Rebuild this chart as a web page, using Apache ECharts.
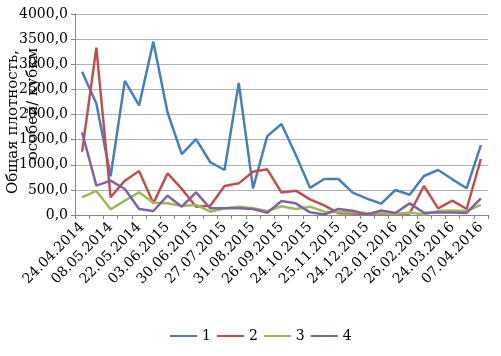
<!DOCTYPE html>
<html>
<head>
<meta charset="utf-8">
<script src="https://cdn.jsdelivr.net/npm/echarts@6/dist/echarts.min.js"></script>
<style>html,body{margin:0;padding:0;background:#fff}#c{width:501px;height:356px}</style>
</head>
<body>
<div id="c"></div>
<script>
var categories = ['24.04.2014','','08.05.2014','','22.05.2014','','03.06.2015','','30.06.2015','','27.07.2015','','31.08.2015','','26.09.2015','','24.10.2015','','25.11.2015','','24.12.2015','','22.01.2016','','26.02.2016','','24.03.2016','','07.04.2016'];
var series1 = [2850, 2220, 770, 2670, 2180, 3450, 2040, 1210, 1510, 1050, 895, 2630, 530, 1570, 1810, 1200, 540, 716, 716, 444, 325, 225, 497, 404, 776, 895, 710, 531, 1390];
var series2 = [1260, 3330, 352, 683, 876, 232, 829, 520, 166, 186, 577, 630, 862, 909, 448, 484, 312, 190, 37, 30, 20, 20, 20, 30, 577, 133, 285, 119, 1114];
var series3 = [352, 478, 113, 285, 451, 245, 232, 180, 200, 66, 133, 166, 133, 80, 175, 120, 166, 66, 56, 60, 40, 30, 20, 50, 10, 80, 90, 80, 200];
var series4 = [1645, 584, 683, 517, 119, 80, 385, 166, 451, 133, 133, 133, 119, 46, 279, 232, 53, 10, 119, 86, 13, 90, 40, 232, 45, 50, 50, 40, 332];
var seriesNames = ['1', '2', '3', '4'];
var yTitle1 = 'Общая плотность,';
var yTitle2 = 'особей/ кубкм';

var font = 'DejaVu Serif';
var colors = ['#4a7ebb', '#c0504d', '#9bbb59', '#8064a2'];
var chart = echarts.init(document.getElementById('c'));
function mk(name, data, i) {
  return {
    name: name, type: 'line', data: data, symbol: 'none', showSymbol: false,
    lineStyle: {width: 2.5, color: colors[i]}, itemStyle: {color: colors[i]},
    animation: false
  };
}
chart.setOption({
  animation: false,
  color: colors,
  grid: {left: 75, right: 13, top: 14, bottom: 141, containLabel: false},
  legend: {
    bottom: 8, left: 165, itemWidth: 27, itemHeight: 12, itemGap: 6,
    icon: 'path://M0,5 L27,5 L27,7 L0,7 Z',
    textStyle: {fontFamily: font, fontSize: 14, color: '#000'},
    data: seriesNames
  },
  xAxis: {
    type: 'category', data: categories, boundaryGap: true,
    axisLine: {lineStyle: {color: '#868686', width: 1}},
    axisTick: {show: true, interval: 0, length: 4, lineStyle: {color: '#868686'}},
    axisLabel: {interval: 1, rotate: 45, margin: 10, color: '#000', fontFamily: font, fontSize: 14}
  },
  yAxis: {
    type: 'value', min: 0, max: 4000, interval: 500,
    axisLine: {show: true, lineStyle: {color: '#868686', width: 1}},
    axisTick: {show: true, length: 4, lineStyle: {color: '#868686'}},
    splitLine: {lineStyle: {color: '#b0b0b0', width: 1}},
    axisLabel: {margin: 7, color: '#000', fontFamily: font, fontSize: 14,
      formatter: function (v) { return v.toFixed(1).replace('.', ','); }}
  },
  graphic: [
    {type: 'text', x: 13, y: 122, rotation: Math.PI / 2,
     style: {text: yTitle1, fontFamily: font, fontSize: 15, fill: '#000', align: 'center', verticalAlign: 'middle'}},
    {type: 'text', x: 33, y: 104, rotation: Math.PI / 2,
     style: {text: yTitle2, fontFamily: font, fontSize: 15, fill: '#000', align: 'center', verticalAlign: 'middle'}}
  ],
  series: [mk(seriesNames[0], series1, 0), mk(seriesNames[1], series2, 1), mk(seriesNames[2], series3, 2), mk(seriesNames[3], series4, 3)]
});
</script>
</body>
</html>
